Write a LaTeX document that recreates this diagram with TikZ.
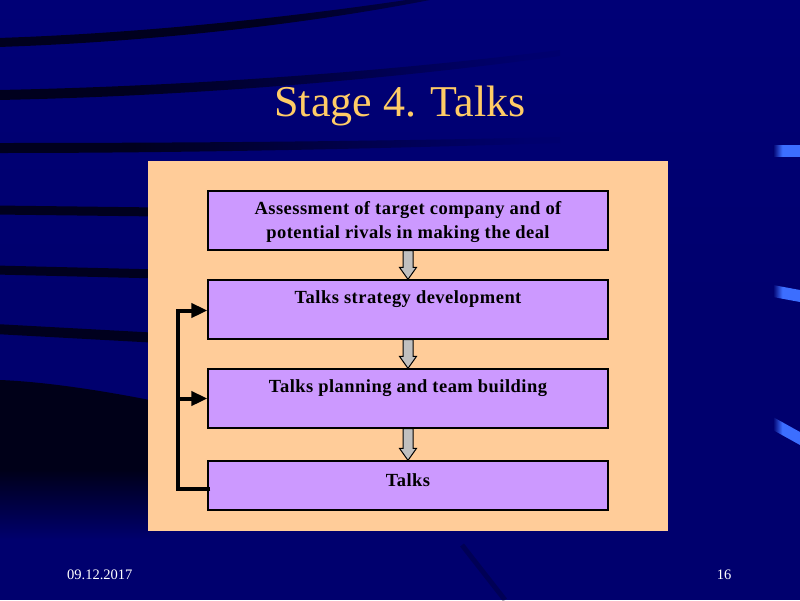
\documentclass[tikz,border=0pt]{standalone}
\usepackage{fontspec}
\setmainfont{Liberation Serif}
\usetikzlibrary{arrows.meta,calc}
\definecolor{navy}{RGB}{0,0,110}
\definecolor{navytop}{RGB}{0,0,118}
\definecolor{stripec}{RGB}{0,0,30}
\definecolor{darkbg}{RGB}{0,0,24}
\definecolor{panelc}{RGB}{255,204,153}
\definecolor{boxc}{RGB}{204,153,255}
\definecolor{titlec}{RGB}{255,204,102}
\definecolor{arrowgray}{RGB}{192,192,192}
\definecolor{markc}{RGB}{60,110,255}
\pgfdeclarehorizontalshading{stripelong}{100bp}{color(0bp)=(stripec); color(37bp)=(stripec); color(72bp)=(navy); color(100bp)=(navy)}
\pgfdeclarehorizontalshading{stripeshort}{100bp}{color(0bp)=(stripec); color(55bp)=(stripec); color(80bp)=(navy!80!black); color(100bp)=(navy!80!black)}
\pgfdeclarehorizontalshading{markshade}{100bp}{color(0bp)=(navy); color(25bp)=(navy); color(42bp)=(markc); color(100bp)=(markc)}
\begin{document}
\begin{tikzpicture}[x=1pt,y=-1pt,
  stripe/.style={draw=stripec,line width=9pt},
  stepbox/.style={draw=black,line width=1.3pt,fill=boxc},
  boxtext/.style={font=\fontsize{18.5}{24}\selectfont\bfseries\addfontfeatures{LetterSpace=2.5},align=center,inner sep=0pt},
  grayarrow/.style={draw=black,line width=1pt,fill=arrowgray,line join=miter},
  fb/.style={draw=black,line width=4pt},
  fbarrow/.style={fb,-{Triangle[length=16pt,width=14pt]}},
  bluemark/.style={shading=markshade}]
\useasboundingbox (0,0) rectangle (800,600);
% background
\fill[navy] (0,0) rectangle (800,600);
\shade[top color=navytop,bottom color=navy] (0,0) rectangle (800,300);
% dark lower-left area
\fill[darkbg] (0,380) .. controls (50,382) and (110,392) .. (160,402) -- (160,470) -- (0,470) -- cycle;
\shade[top color=darkbg,bottom color=navy] (0,469) rectangle (160,540);
% stripes
\shade[shading=stripeshort] (-2,38) .. controls (150,33) and (300,16) .. (420,-2) -- (440,-2)
  .. controls (310,24) and (150,42) .. (-2,47) -- cycle;
\shade[shading=stripelong] (-2,90) .. controls (200,86) and (400,70) .. (560,50) -- (560,56)
  .. controls (400,78) and (200,96) .. (-2,100) -- cycle;
\shade[shading=stripelong] (-2,143) .. controls (200,143) and (400,141) .. (560,137) -- (560,143)
  .. controls (400,148) and (200,153) .. (-2,153) -- cycle;
\draw[stripe] (-5,210) -- (160,212);
\draw[stripe] (-5,270) -- (160,274);
\draw[stripe,line width=10pt] (-5,329) -- (160,338);
\draw[stripec,line width=5pt,opacity=0.3] (462,545) -- (505,600);
% blue marks on the right
\shade[bluemark] (773,145) rectangle (800,156);
\shade[bluemark] (773,285) -- (800,290) -- (800,302) -- (773,297) -- cycle;
\shade[bluemark] (773,417) -- (800,432) -- (800,445) -- (773,430) -- cycle;
% title and footer
\node[text=titlec,font=\fontsize{44}{50}\selectfont] (title) at (400,106) {Stage 4. Talks};
\node[text=white,font=\fontsize{14.5}{16}\selectfont,anchor=west,inner sep=0pt] (date) at (67,575) {09.12.2017};
\node[text=white,font=\fontsize{14.5}{16}\selectfont,inner sep=0pt] (page) at (724,575) {16};
% panel
\fill[panelc] (148,161) rectangle (668,531);
% boxes
\node[stepbox,minimum width=400pt,minimum height=59pt,inner sep=0pt] (b1) at (408,220.5) {};
\node[stepbox,minimum width=400pt,minimum height=59pt,inner sep=0pt] (b2) at (408,309.5) {};
\node[stepbox,minimum width=400pt,minimum height=59pt,inner sep=0pt] (b3) at (408,398.5) {};
\node[stepbox,minimum width=400pt,minimum height=49pt,inner sep=0pt] (b4) at (408,485.5) {};
\node[boxtext] (t1) at ($(b1.center)+(0,2)$) {Assessment of target company and of\\potential rivals in making the deal};
\node[boxtext] (t2) at ($(b2.north)+(0,20)$) {Talks strategy development};
\node[boxtext] (t3) at ($(b3.north)+(0,20)$) {Talks planning and team building};
\node[boxtext] (t4) at ($(b4.north)+(0,20)$) {Talks};
% gray arrows
\foreach \a/\b in {b1/b2,b2/b3,b3/b4}{
  \draw[grayarrow] ($(\a.south)+(-5,0)$) -- ($(\b.north)+(-5,-12)$) -- ($(\b.north)+(-8.5,-12)$)
    -- (\b.north) -- ($(\b.north)+(8.5,-12)$) -- ($(\b.north)+(5,-12)$) -- ($(\a.south)+(5,0)$) -- cycle;
}
% feedback connector
\coordinate (c4) at ($(b4.west)+(3,3.5)$);
\coordinate (spine) at (178,0);
\draw[fbarrow] (c4) -- (c4 -| spine) |- ($(b2.west)+(0,1)$);
\draw[fbarrow] (c4 -| spine) |- (b3.west);
\end{tikzpicture}
\end{document}
